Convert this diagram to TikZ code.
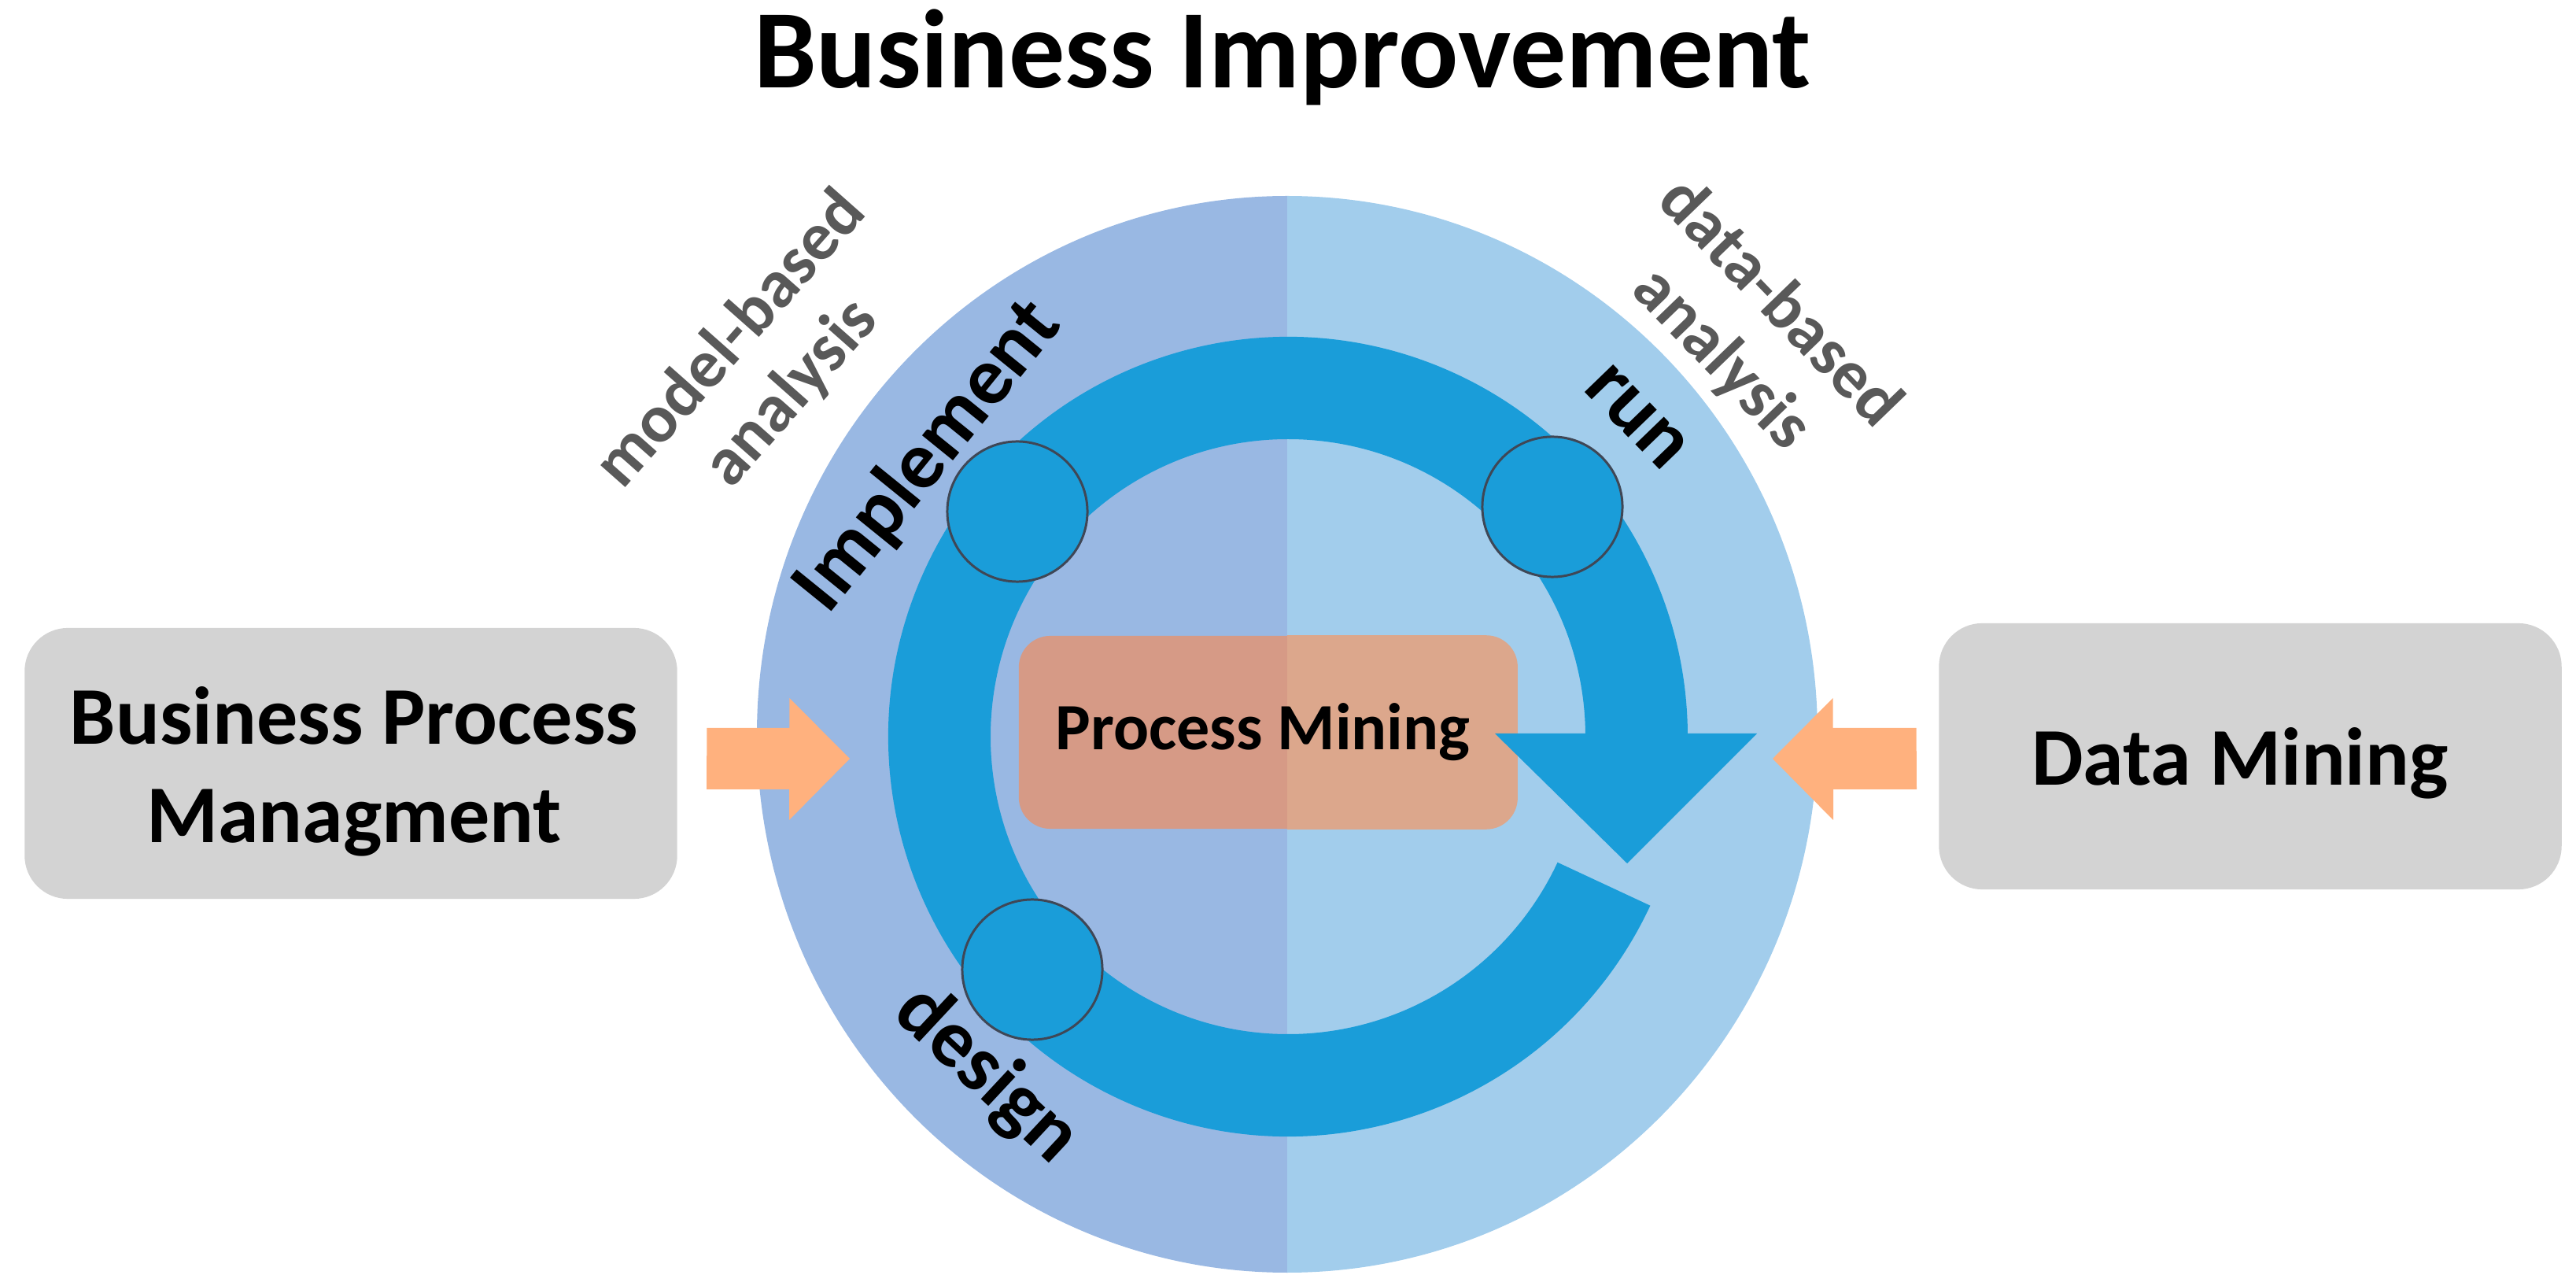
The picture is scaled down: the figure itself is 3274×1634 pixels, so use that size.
\documentclass[tikz,border=0pt]{standalone}
\usepackage{fontspec}
\setmainfont{Carlito}
\usetikzlibrary{calc}
\definecolor{leftblue}{HTML}{99B8E3}
\definecolor{rightblue}{HTML}{A2CDEC}
\definecolor{ringblue}{HTML}{1A9DD9}
\definecolor{pmleft}{HTML}{D69A86}
\definecolor{pmright}{HTML}{DCA78C}
\definecolor{arroworange}{HTML}{FFB17E}
\definecolor{boxgray}{HTML}{D3D3D3}
\definecolor{labelgray}{HTML}{595959}
\definecolor{dotline}{HTML}{3F4756}
\begin{document}
\begin{tikzpicture}[x=0.01cm,y=-0.01cm]
\tikzset{
 graybox/.style={fill=boxgray, rounded corners=0.55cm, inner sep=0, draw=none},
 boxtxt/.style={font=\fontsize{29.6pt}{35.6pt}\selectfont\bfseries, align=center, inner sep=0},
 steplabel/.style={font=\fontsize{29.6pt}{35.6pt}\selectfont\bfseries, inner sep=0},
 sidelabel/.style={font=\fontsize{24.7pt}{29pt}\selectfont\bfseries, text=labelgray, align=center, inner sep=0},
 stagedot/.style={circle, fill=ringblue, draw=dotline, line width=0.85pt, minimum size=1.78cm, inner sep=0},
 blockarrow/.style={fill=arroworange, draw=none},
}
\useasboundingbox (0,0) rectangle (3274,1634);

% title
\node[font=\fontsize{40.4pt}{48pt}\selectfont\bfseries, anchor=base, inner sep=0] (title) at (1630,112) {Business Improvement};

% big circle, two halves
\coordinate (bc) at (1636,933);
\begin{scope}
\clip (0,0) rectangle (1636,1634);
\fill[leftblue] (bc) ellipse [x radius=674, y radius=684];
\end{scope}
\begin{scope}
\clip (1636,0) rectangle (3274,1634);
\fill[rightblue] (bc) ellipse [x radius=674, y radius=684];
\end{scope}

% cycle ring
\coordinate (rc) at (1637,936);
\fill[ringblue] ($(rc)+(25:508)$) arc[start angle=25, end angle=360, radius=508]
  -- ($(rc)+(0:378)$) arc[start angle=360, end angle=25, radius=378] -- cycle;

% process mining box (two tones)
\node[fill=pmleft, rounded corners=0.4cm, minimum width=6.33cm, minimum height=2.45cm, inner sep=0] (pm) at (1611.5,930.5) {};
\begin{scope}
\clip (1636,0) rectangle (3274,1634);
\fill[pmright, rounded corners=0.4cm] (pm.south west) rectangle (pm.north east);
\end{scope}
\node[font=\fontsize{23.9pt}{28pt}\selectfont\bfseries, inner sep=0] (pmtxt) at (1605,930) {Process Mining};

% arrow head of the ring
\coordinate (ahl) at (1900,932);
\coordinate (ahr) at (2233,932);
\coordinate (aht) at (2068,1097);
\fill[ringblue] (ahl) -- (ahr) -- (aht) -- cycle;

% stage dots
\node[stagedot] (impdot) at (1293,650) {};
\node[stagedot] (rundot) at (1973,644) {};
\node[stagedot] (desdot) at (1312,1232) {};

% stage labels
\node[steplabel, rotate=51] (implement) at (1180,580) {Implement};
\node[steplabel, rotate=-46] (run) at (2080,530) {run};
\node[steplabel, rotate=-43] (design) at (1254,1366) {design};

% side labels
\node[sidelabel, rotate=48.5] (model) at (968,466) {model-based\\analysis};
\node[sidelabel, rotate=-46] (data) at (2224,421) {data-based\\analysis};

% side boxes
\node[graybox, minimum width=8.29cm, minimum height=3.44cm] (bpm) at (446,970) {};
\node[boxtxt] (bpmtxt) at (450,980) {Business Process\\Managment};
\node[graybox, minimum width=7.91cm, minimum height=3.38cm] (dm) at (2860,961) {};
\node[boxtxt] (dmtxt) at (2847,970) {Data Mining};

% block arrows
\coordinate (lt) at ($(bpm.east)+(37,-6)$);
\coordinate (lh) at (1080,964);
\fill[blockarrow] (lt) ++(0,-39) -- ++(105,0) -- ++(0,-38) -- (lh) -- ++(-77,78) -- ++(0,-39) -- ++(-105,0) -- cycle;
\coordinate (rt) at ($(dm.west)+(-28,3)$);
\coordinate (rh) at (2253,964);
\fill[blockarrow] (rt) ++(0,-39) -- ++(-106,0) -- ++(0,-38) -- (rh) -- ++(77,78) -- ++(0,-39) -- ++(106,0) -- cycle;
\end{tikzpicture}
\end{document}
